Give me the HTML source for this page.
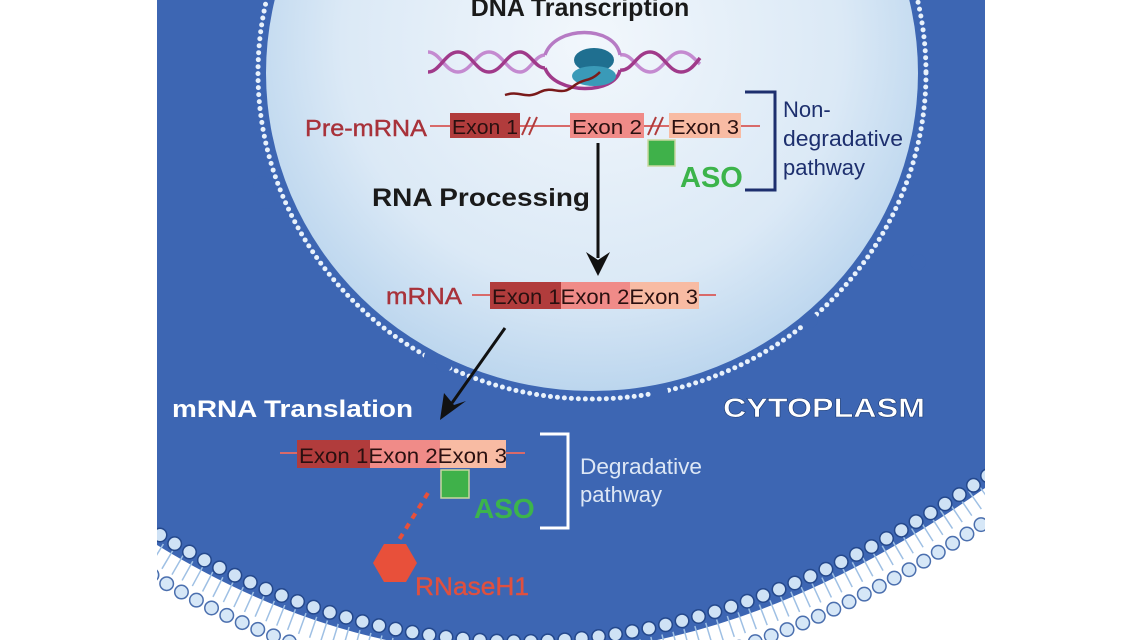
<!DOCTYPE html>
<html><head><meta charset="utf-8"><style>
html,body{margin:0;padding:0;background:#fff;width:1138px;height:640px;overflow:hidden;}
svg{display:block;}
text{font-family:"Liberation Sans",Arial,sans-serif;}
</style></head><body>
<svg width="1138" height="640" viewBox="0 0 1138 640" xmlns="http://www.w3.org/2000/svg">
<defs>
<radialGradient id="nuc" cx="0.5" cy="0.45" r="0.55">
<stop offset="0" stop-color="#f2f7fc"/><stop offset="0.7" stop-color="#dbe9f6"/><stop offset="1" stop-color="#bcd6ee"/>
</radialGradient>
</defs>
<rect x="0" y="0" width="1138" height="640" fill="#fff"/>
<path d="M157,0 L985,0 L985,488 Q557,790 157,545 Z" fill="#3d66b3"/>
<path d="M157,553 Q557,798 985,493" fill="none" stroke="#9fc0e4" stroke-width="22" stroke-dasharray="1.5 10"/>
<path d="M160,535 Q557,775 990,474" fill="none" stroke="#24488c" stroke-width="15" stroke-linecap="round" stroke-dasharray="0 17"/>
<path d="M160,535 Q557,775 990,474" fill="none" stroke="#cfe2f5" stroke-width="12" stroke-linecap="round" stroke-dasharray="0 17"/>
<path d="M152,575 Q557,820 995,515" fill="none" stroke="#4b6fae" stroke-width="15" stroke-linecap="round" stroke-dasharray="0 17"/>
<path d="M152,575 Q557,820 995,515" fill="none" stroke="#d6e7f7" stroke-width="12" stroke-linecap="round" stroke-dasharray="0 17"/>
<rect x="985" y="0" width="153" height="640" fill="#fff"/>
<rect x="0" y="0" width="157" height="640" fill="#fff"/>

<ellipse cx="592" cy="73" rx="334" ry="326" fill="none" stroke="#e8f1fb" stroke-width="5" stroke-linecap="round" stroke-dasharray="0 7"/>
<g fill="#3d66b3">
<circle cx="262" cy="185" r="9"/><circle cx="266" cy="200" r="9"/>
<circle cx="432" cy="357" r="8"/><circle cx="444" cy="364" r="8"/>
<circle cx="660" cy="392" r="8"/>
<circle cx="810" cy="320" r="8"/>
<circle cx="918" cy="262" r="8"/>
</g>
<ellipse cx="592" cy="73" rx="326" ry="318" fill="url(#nuc)"/>

<text x="580" y="16" font-size="25" font-weight="bold" text-anchor="middle" fill="#1a1a1a">DNA Transcription</text>
<g fill="none" stroke-width="3.5">
<path d="M428,52 C440,52 445,72 458,72 C471,72 476,52 489,52 C502,52 507,72 520,72 C530,72 535,55 545,55" stroke="#c48ad0"/>
<path d="M428,72 C440,72 445,52 458,52 C471,52 476,72 489,72 C502,72 507,52 520,52 C530,52 535,68 545,68" stroke="#a03a8a"/>
<path d="M620,55 C632,52 637,72 650,72 C663,72 668,52 681,52 C690,52 695,60 700,64" stroke="#c48ad0"/>
<path d="M620,70 C632,72 637,52 650,52 C663,52 668,72 681,72 C690,72 695,64 700,58" stroke="#a03a8a"/>
<path d="M545,55 C555,25 615,25 620,55" stroke="#b67ac4"/>
<path d="M545,68 C555,95 615,95 620,70" stroke="#a03a8a"/>
</g>
<ellipse cx="594" cy="60" rx="20" ry="12" fill="#1f6f90"/>
<ellipse cx="594" cy="76" rx="22" ry="10" fill="#3a9ab8"/>
<path d="M505,95 C520,90 525,100 540,92 C555,85 560,98 575,85 C585,78 590,82 600,72" fill="none" stroke="#7a1a1a" stroke-width="2.5"/>

<text x="305" y="136" font-size="23" fill="#a8323a" stroke="#a8323a" stroke-width="0.4" textLength="122" lengthAdjust="spacingAndGlyphs">Pre-mRNA</text>
<line x1="430" y1="126" x2="760" y2="126" stroke="#d86a6a" stroke-width="2"/>
<rect x="450" y="113" width="70" height="25" fill="#b13c3c"/>
<rect x="570" y="113" width="74" height="25" fill="#f08b88"/>
<rect x="669" y="113" width="72" height="25" fill="#f8bba3"/>
<text x="452" y="134" font-size="20" fill="#2a1010" textLength="66" lengthAdjust="spacingAndGlyphs">Exon 1</text>
<text x="572" y="134" font-size="20" fill="#2a1010" textLength="70" lengthAdjust="spacingAndGlyphs">Exon 2</text>
<text x="671" y="134" font-size="20" fill="#2a1010" textLength="68" lengthAdjust="spacingAndGlyphs">Exon 3</text>
<g stroke="#b13c3c" stroke-width="2"><line x1="522" y1="135" x2="530" y2="117"/><line x1="529" y1="135" x2="537" y2="117"/><line x1="648" y1="135" x2="656" y2="117"/><line x1="655" y1="135" x2="663" y2="117"/></g>
<rect x="648" y="140" width="27" height="26" fill="#3fb14a" stroke="#c9d7a0" stroke-width="1.5"/>
<text x="680" y="187" font-size="29" font-weight="bold" fill="#3cb44b">ASO</text>
<path d="M745,92 L775,92 L775,190 L745,190" fill="none" stroke="#1d2f6e" stroke-width="3"/>
<text x="783" y="117" font-size="22" fill="#1d2f6e">Non-</text>
<text x="783" y="146" font-size="22" fill="#1d2f6e" textLength="120" lengthAdjust="spacingAndGlyphs">degradative</text>
<text x="783" y="175" font-size="22" fill="#1d2f6e">pathway</text>

<text x="372" y="206" font-size="25" font-weight="bold" fill="#1a1a1a" textLength="218" lengthAdjust="spacingAndGlyphs">RNA Processing</text>
<line x1="598" y1="143" x2="598" y2="258" stroke="#111" stroke-width="3"/>
<path d="M586,252 L598,276 L610,252 L598,260 Z" fill="#111"/>

<text x="386" y="304" font-size="23" fill="#a8323a" stroke="#a8323a" stroke-width="0.4" textLength="76" lengthAdjust="spacingAndGlyphs">mRNA</text>
<line x1="472" y1="295" x2="716" y2="295" stroke="#d86a6a" stroke-width="2"/>
<rect x="490" y="282" width="71" height="27" fill="#b13c3c"/>
<rect x="561" y="282" width="69" height="27" fill="#f08b88"/>
<rect x="630" y="282" width="69" height="27" fill="#f8bba3"/>
<text x="492" y="304" font-size="21" fill="#2a1010" textLength="206" lengthAdjust="spacingAndGlyphs">Exon 1Exon 2Exon 3</text>

<line x1="505" y1="328" x2="452" y2="403" stroke="#111" stroke-width="3"/>
<path d="M440,420 L444,393 L454,405 L466,401 Z" fill="#111"/>

<text x="172" y="417" font-size="24" font-weight="bold" fill="#fff" textLength="241" lengthAdjust="spacingAndGlyphs">mRNA Translation</text>
<text x="723" y="417" font-size="27" font-weight="bold" fill="#fff" stroke="#22407a" stroke-width="0.6" textLength="202" lengthAdjust="spacingAndGlyphs">CYTOPLASM</text>

<line x1="280" y1="453" x2="525" y2="453" stroke="#d86a6a" stroke-width="2"/>
<rect x="297" y="440" width="73" height="28" fill="#b13c3c"/>
<rect x="370" y="440" width="70" height="28" fill="#f08b88"/>
<rect x="440" y="440" width="66" height="28" fill="#f8bba3"/>
<text x="299" y="463" font-size="21" fill="#2a1010" textLength="208" lengthAdjust="spacingAndGlyphs">Exon 1Exon 2Exon 3</text>
<rect x="441" y="470" width="28" height="28" fill="#3fb14a" stroke="#c9d7a0" stroke-width="1.5"/>
<text x="474" y="518" font-size="28" font-weight="bold" fill="#3cb44b">ASO</text>
<path d="M540,434 L568,434 L568,528 L540,528" fill="none" stroke="#fff" stroke-width="3"/>
<text x="580" y="474" font-size="22" fill="#dde7f5" textLength="122" lengthAdjust="spacingAndGlyphs">Degradative</text>
<text x="580" y="502" font-size="22" fill="#dde7f5">pathway</text>
<line x1="428" y1="493" x2="397" y2="543" stroke="#e8503a" stroke-width="4" stroke-dasharray="6 6"/>
<polygon points="373,563 384,544 406,544 417,563 406,582 384,582" fill="#e8503a"/>
<text x="415" y="595" font-size="25" fill="#e0503e" stroke="#e0503e" stroke-width="0.4" textLength="114" lengthAdjust="spacingAndGlyphs">RNaseH1</text>
</svg>
</body></html>
